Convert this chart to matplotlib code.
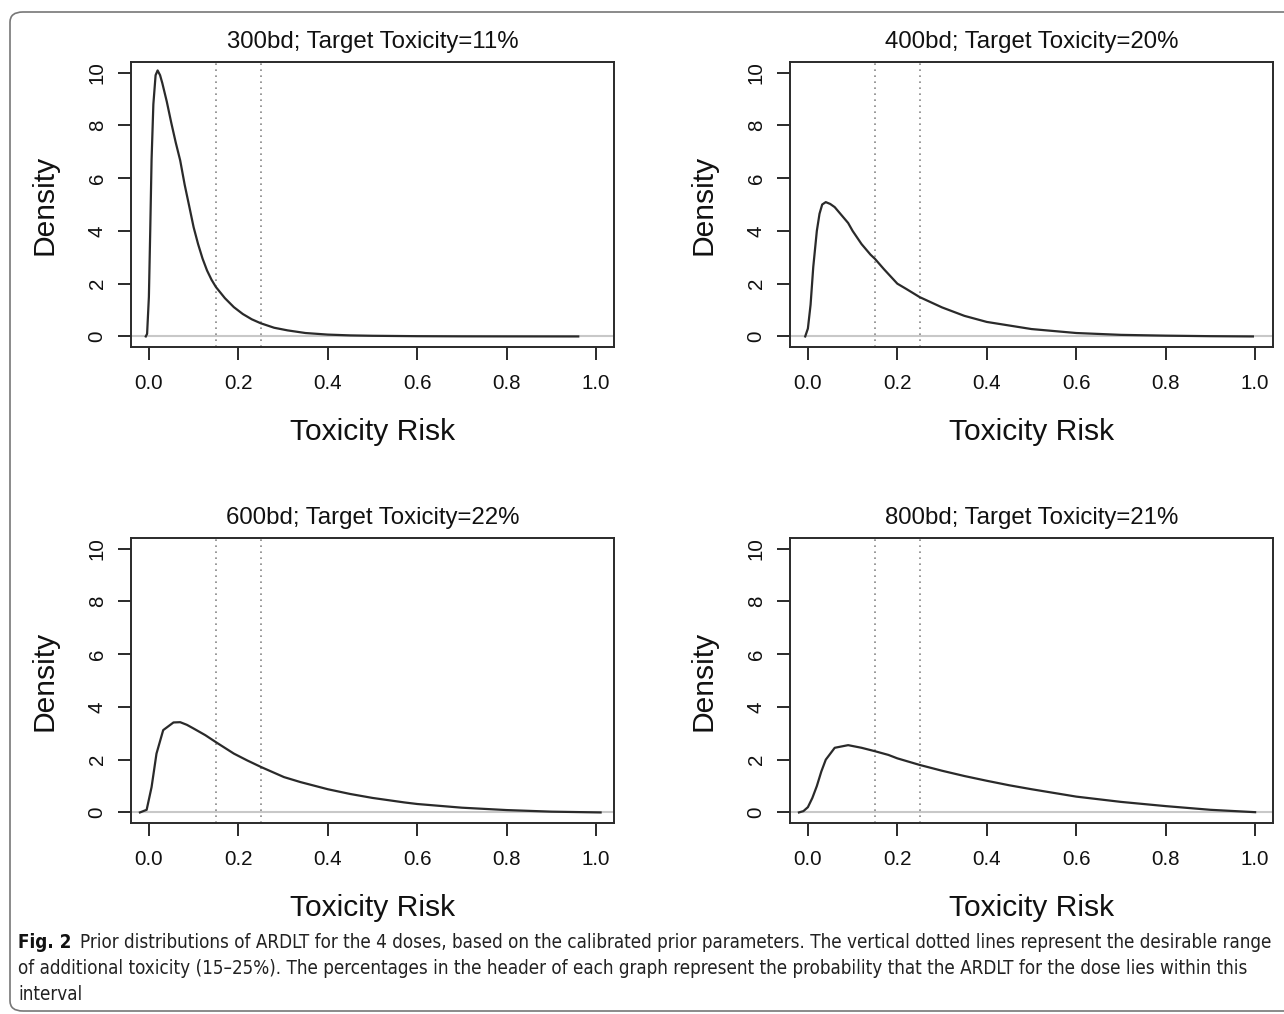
import matplotlib
matplotlib.use("Agg")
import matplotlib.pyplot as plt
from matplotlib import font_manager
from matplotlib.font_manager import FontProperties
from matplotlib.patches import FancyBboxPatch

# Prior densities
titles = ["300bd; Target Toxicity=11%", "400bd; Target Toxicity=20%",
          "600bd; Target Toxicity=22%", "800bd; Target Toxicity=21%"]

x_300 = [-0.007, -0.004, 0.0, 0.003, 0.006, 0.01, 0.015, 0.0195, 0.025, 0.03, 0.04,
         0.05, 0.06, 0.07, 0.08, 0.09, 0.10, 0.11, 0.12, 0.13, 0.14, 0.15, 0.17,
         0.19, 0.21, 0.23, 0.25, 0.28, 0.31, 0.35, 0.40, 0.45, 0.50, 0.60, 0.70,
         0.80, 0.96]
y_300 = [0.0, 0.1, 1.5, 4.0, 6.7, 8.8, 9.9, 10.08, 9.9, 9.6, 8.9,
         8.1, 7.35, 6.67, 5.75, 4.95, 4.14, 3.5, 2.95, 2.5, 2.15, 1.87, 1.45,
         1.11, 0.85, 0.65, 0.50, 0.33, 0.23, 0.13, 0.07, 0.04, 0.025, 0.01, 0.004,
         0.002, 0.0]

x_400 = [-0.006, 0.0, 0.006, 0.012, 0.02, 0.026, 0.032, 0.04, 0.05, 0.06, 0.07,
         0.08, 0.09, 0.10, 0.11, 0.12, 0.13, 0.14, 0.15, 0.17, 0.20, 0.22, 0.25,
         0.30, 0.35, 0.40, 0.50, 0.60, 0.70, 0.80, 0.90, 0.995]
y_400 = [0.0, 0.3, 1.2, 2.63, 4.0, 4.65, 5.0, 5.09, 5.02, 4.9, 4.7,
         4.5, 4.3, 4.0, 3.75, 3.5, 3.3, 3.1, 2.94, 2.55, 2.0, 1.8, 1.49,
         1.1, 0.78, 0.55, 0.28, 0.13, 0.06, 0.03, 0.01, 0.0]

x_600 = [-0.02, -0.005, 0.006, 0.017, 0.032, 0.055, 0.07, 0.085, 0.10, 0.126,
         0.152, 0.19, 0.22, 0.251, 0.302, 0.339, 0.40, 0.45, 0.50, 0.571, 0.60,
         0.70, 0.80, 0.90, 1.01]
y_600 = [0.0, 0.1, 0.96, 2.23, 3.12, 3.41, 3.42, 3.32, 3.18, 2.93,
         2.64, 2.23, 1.97, 1.72, 1.34, 1.15, 0.88, 0.70, 0.55, 0.38, 0.32,
         0.18, 0.09, 0.03, 0.0]

x_800 = [-0.02, -0.01, 0.0, 0.01, 0.02, 0.03, 0.04, 0.06, 0.09, 0.12, 0.15, 0.18,
         0.20, 0.25, 0.30, 0.35, 0.40, 0.45, 0.50, 0.60, 0.70, 0.80, 0.90, 1.0]
y_800 = [0.0, 0.05, 0.2, 0.55, 1.0, 1.55, 2.0, 2.45, 2.55, 2.45, 2.32, 2.18,
         2.05, 1.8, 1.58, 1.38, 1.2, 1.03, 0.88, 0.6, 0.4, 0.24, 0.1, 0.01]

series = [(x_300, y_300), (x_400, y_400), (x_600, y_600), (x_800, y_800)]
target_range = [0.15, 0.25]
xticks = [0.0, 0.2, 0.4, 0.6, 0.8, 1.0]
yticks = [0, 2, 4, 6, 8, 10]

fig_label = "Fig. 2"
caption_lines = [
    "Prior distributions of ARDLT for the 4 doses, based on the calibrated prior parameters. "
    "The vertical dotted lines represent the desirable range",
    "of additional toxicity (15\u201325%). The percentages in the header of each graph "
    "represent the probability that the ARDLT for the dose lies within this",
    "interval",
]

W, H = 1284, 1014
plt.rcParams['font.family'] = ['Liberation Sans', 'DejaVu Sans']


def find_condensed(bold):
    # any installed upright narrow / condensed face for the caption
    for f in font_manager.fontManager.ttflist:
        fn = f.fname.lower()
        if f.style != 'normal' or 'italic' in fn or 'oblique' in fn:
            continue
        if f.stretch not in ('condensed', 'semi-condensed') and \
                'condensed' not in fn and 'narrow' not in fn:
            continue
        w = f.weight if isinstance(f.weight, int) else {'normal': 400, 'regular': 400,
                                                         'bold': 700}.get(f.weight, 0)
        if (bold and w == 700) or (not bold and w == 400):
            return FontProperties(fname=f.fname)
    return FontProperties(family='Liberation Sans', weight='bold' if bold else 'normal')


cap_reg = find_condensed(False)
cap_bold = find_condensed(True)

fig = plt.figure(figsize=(W / 100, H / 100), dpi=100)

# outer frame of the figure box
frame = FancyBboxPatch((10 / W, 1 - 1011 / H), 1.2, 999 / H,
                       boxstyle="round,pad=0,rounding_size=0.01",
                       transform=fig.transFigure, fill=False,
                       edgecolor='#777777', linewidth=1.2, clip_on=False)
fig.patches.append(frame)

boxes = [(131, 62), (790, 62), (131, 538), (790, 538)]
bw, bh = 483, 285
dark = '#2a2a2a'

for (px, py), title, (xs, ys) in zip(boxes, titles, series):
    ax = fig.add_axes([px / W, 1 - (py + bh) / H, bw / W, bh / H])
    ax.axhline(0, color='#c8c8c8', lw=1.5, zorder=1)
    for v in target_range:
        ax.axvline(v, color='#888888', lw=1.2, linestyle=(0, (1, 2.6)), zorder=1)
    ax.plot(xs, ys, color=dark, lw=1.6, zorder=2)
    ax.set_xlim(-0.04, 1.04)
    ax.set_ylim(-0.4, 10.4)
    ax.set_xticks(xticks)
    ax.set_xticklabels([f"{t:.1f}" for t in xticks])
    ax.set_yticks(yticks)
    ax.set_yticklabels([str(t) for t in yticks])
    for s in ax.spines.values():
        s.set_color(dark)
        s.set_linewidth(1.4)
    ax.tick_params(axis='both', direction='out', length=9.5, width=1.4,
                   color=dark, labelsize=14.8, labelcolor='#111111')
    ax.tick_params(axis='x', pad=10)
    ax.tick_params(axis='y', pad=8, labelrotation=90)
    for lab in ax.get_yticklabels():
        lab.set_va('center')
    ax.set_title(title, fontsize=17.3, pad=10, color='#111111')
    ax.set_xlabel('Toxicity Risk', fontsize=21.6, labelpad=18, color='#111111')
    ax.set_ylabel('Density', fontsize=21.6, labelpad=21, color='#111111')

# caption, shrunk so the first line ends where the reference's does
cap_size = 14.5
t_fig = fig.text(18 / W, 1 - 942 / H, fig_label, fontproperties=cap_bold,
                 fontsize=cap_size, va='center', ha='left', color='#111111')
t_lines = []
for i, (line, yy) in enumerate(zip(caption_lines, [942, 969, 995])):
    x0 = 72 if i == 0 else 18
    t_lines.append(fig.text(x0 / W, 1 - yy / H, line, fontproperties=cap_reg,
                            fontsize=cap_size, va='center', ha='left', color='#222222'))

fig.canvas.draw()
r = fig.canvas.get_renderer()
w1 = t_lines[0].get_window_extent(r).width
scale = min(1.0, (1266 - 72) / w1)
for t in [t_fig] + t_lines:
    t.set_fontsize(cap_size * scale)
fig.canvas.draw()
fw = t_fig.get_window_extent(r).width
t_lines[0].set_x((18 + fw + 9) / W)

fig.savefig('out.png', dpi=100)
